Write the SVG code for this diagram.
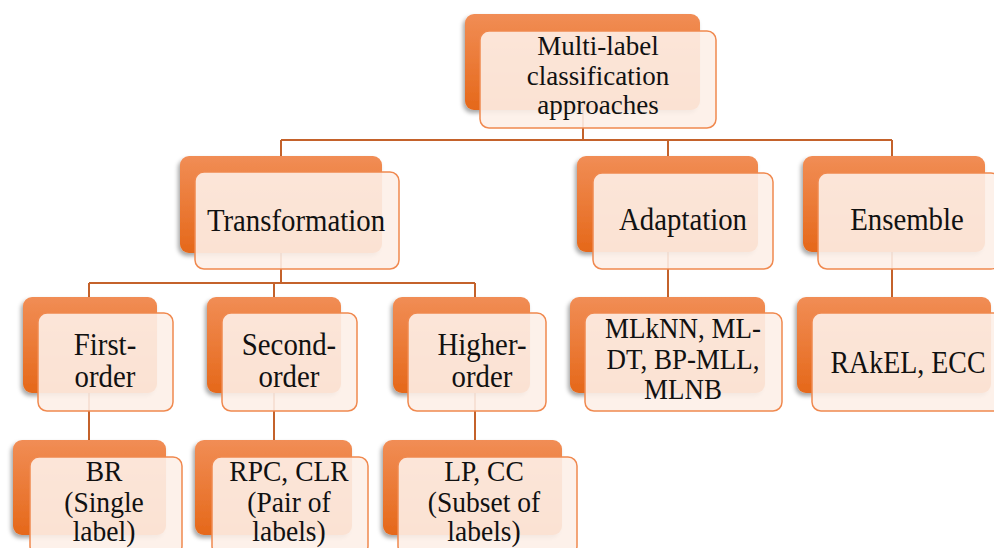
<svg xmlns="http://www.w3.org/2000/svg" width="994" height="548" viewBox="0 0 994 548">
<defs>
<linearGradient id="og" x1="0" y1="0" x2="0" y2="1">
<stop offset="0" stop-color="#F18D55"/>
<stop offset="1" stop-color="#E5681A"/>
</linearGradient>
<filter id="sh" x="-10%" y="-10%" width="120%" height="130%">
<feDropShadow dx="-2" dy="3" stdDeviation="2" flood-color="#000" flood-opacity="0.35"/>
</filter>
</defs>
<style>
.b{fill:url(#og);filter:url(#sh)}
.f{fill:#FDF0E8;fill-opacity:0.9;stroke:#F0894F;stroke-width:1.5}
.c{fill:none;stroke:#C4622B;stroke-width:2}
text{font-family:'Liberation Serif','Times New Roman',serif;font-size:31px;fill:#111;text-anchor:middle}
.s{font-size:29px}
.r{font-size:27px}
</style>
<rect width="994" height="548" fill="#fff"/>
<g id="connectors">
<path class="c" d="M583 110V140M281 140H892M281 140V283M668 140V297M892 140V297M89 283H475M89 283V440M274 283V440M475 283V440"/>
</g>
<g id="n-root">
<rect class="b" x="465" y="14" width="235" height="96" rx="9"/>
<rect class="f" x="480" y="31" width="236" height="97" rx="9"/>
<text class="r" transform="matrix(1 0 0 1 598 0)"><tspan x="0" y="55">Multi-label</tspan><tspan x="0" y="84.5">classification</tspan><tspan x="0" y="114">approaches</tspan></text>
</g>
<g id="n-transformation">
<rect class="b" x="180" y="156" width="202" height="97" rx="9"/>
<rect class="f" x="195" y="172" width="204" height="97" rx="9"/>
<text transform="matrix(0.93 0 0 1 296 0)"><tspan x="0" y="230.7">Transformation</tspan></text>
</g>
<g id="n-adaptation">
<rect class="b" x="577" y="156" width="181" height="96" rx="9"/>
<rect class="f" x="593" y="173" width="180" height="96" rx="9"/>
<text transform="matrix(0.93 0 0 1 683 0)"><tspan x="0" y="230">Adaptation</tspan></text>
</g>
<g id="n-ensemble">
<rect class="b" x="803" y="156" width="182" height="96" rx="9"/>
<rect class="f" x="818" y="173" width="182" height="96" rx="9"/>
<text transform="matrix(0.93 0 0 1 907 0)"><tspan x="0" y="230">Ensemble</tspan></text>
</g>
<g id="n-first">
<rect class="b" x="23" y="297" width="134" height="96" rx="9"/>
<rect class="f" x="38" y="313" width="135" height="98" rx="9"/>
<text transform="matrix(0.93 0 0 1 105 0)"><tspan x="0" y="355">First-</tspan><tspan x="0" y="387.3">order</tspan></text>
</g>
<g id="n-second">
<rect class="b" x="207" y="297" width="134" height="96" rx="9"/>
<rect class="f" x="222" y="313" width="135" height="98" rx="9"/>
<text transform="matrix(0.93 0 0 1 289 0)"><tspan x="0" y="355">Second-</tspan><tspan x="0" y="387.3">order</tspan></text>
</g>
<g id="n-higher">
<rect class="b" x="393" y="297" width="137" height="96" rx="9"/>
<rect class="f" x="408" y="313" width="138" height="98" rx="9"/>
<text transform="matrix(0.93 0 0 1 482 0)"><tspan x="0" y="355">Higher-</tspan><tspan x="0" y="387.3">order</tspan></text>
</g>
<g id="n-mlknn">
<rect class="b" x="570" y="297" width="195" height="96" rx="9"/>
<rect class="f" x="585" y="313" width="197" height="98" rx="9"/>
<text class="s" transform="matrix(0.93 0 0 1 683 0)"><tspan x="0" y="338.3">MLkNN, ML-</tspan><tspan x="0" y="369">DT, BP-MLL,</tspan><tspan x="0" y="399.5">MLNB</tspan></text>
</g>
<g id="n-rakel">
<rect class="b" x="797" y="297" width="194" height="96" rx="9"/>
<rect class="f" x="812" y="313" width="194" height="98" rx="9"/>
<text transform="matrix(0.9 0 0 1 908 0)"><tspan x="0" y="373.3">RAkEL,  ECC</tspan></text>
</g>
<g id="n-br">
<rect class="b" x="13" y="440" width="153" height="95" rx="9"/>
<rect class="f" x="30" y="457" width="152" height="98" rx="9"/>
<text class="s" transform="matrix(0.95 0 0 1 104 0)"><tspan x="0" y="481">BR</tspan><tspan x="0" y="512">(Single</tspan><tspan x="0" y="541">label)</tspan></text>
</g>
<g id="n-rpc">
<rect class="b" x="195" y="440" width="157" height="95" rx="9"/>
<rect class="f" x="212" y="457" width="156" height="98" rx="9"/>
<text class="s" transform="matrix(0.95 0 0 1 289 0)"><tspan x="0" y="481">RPC, CLR</tspan><tspan x="0" y="512">(Pair of</tspan><tspan x="0" y="541">labels)</tspan></text>
</g>
<g id="n-lp">
<rect class="b" x="383" y="440" width="179" height="95" rx="9"/>
<rect class="f" x="398" y="457" width="179" height="98" rx="9"/>
<text class="s" transform="matrix(0.95 0 0 1 484 0)"><tspan x="0" y="481">LP, CC</tspan><tspan x="0" y="512">(Subset of</tspan><tspan x="0" y="541">labels)</tspan></text>
</g>
</svg>
